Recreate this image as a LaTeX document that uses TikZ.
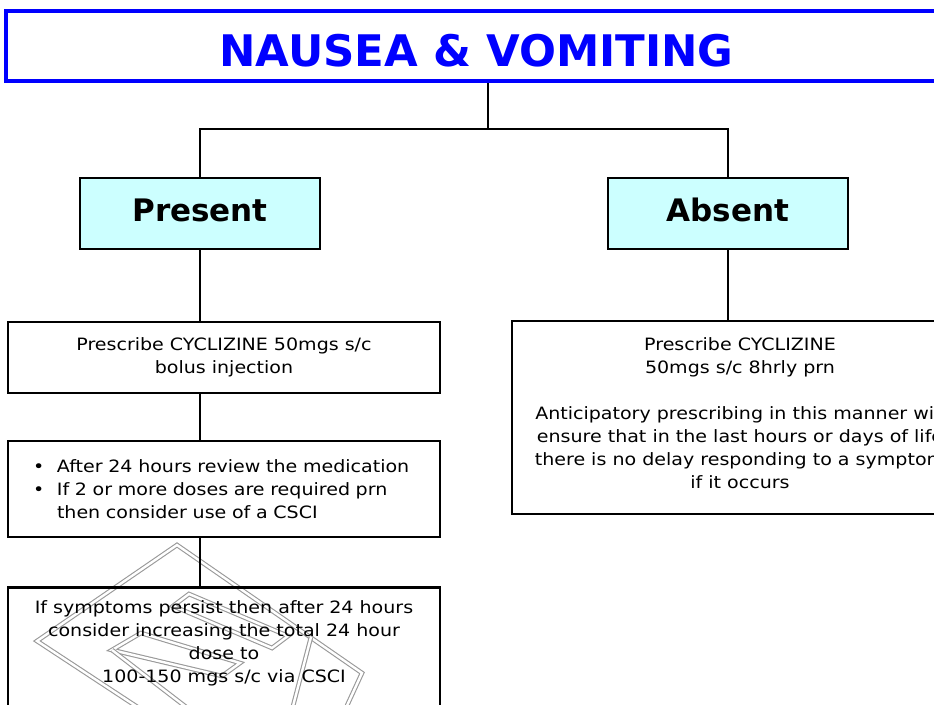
\documentclass[tikz,border=0pt]{standalone}
\usepackage{fontspec}
\setmainfont{DejaVu Sans}[FakeStretch=1.12]
\newfontfamily\headfont{DejaVu Sans}
\definecolor{titleblue}{HTML}{0000FF}
\definecolor{hdrfill}{HTML}{CCFFFF}
\begin{document}
\begin{tikzpicture}[x=1pt,y=-1pt,
  box/.style={draw=black, line width=2.5pt, rectangle, inner sep=0pt, align=center, font=\fontsize{17}{23}\selectfont},
  hdr/.style={box, fill=hdrfill, minimum width=240pt, minimum height=71pt, text depth=7pt, font=\headfont\bfseries\fontsize{31}{36}\selectfont},
  conn/.style={draw=black, line width=2pt},
  body/.style={align=center, inner sep=0pt, font=\fontsize{17}{23}\selectfont},
  wm/.style={draw=gray!80, line width=1.1pt, double=white, double distance=2.4pt}
]
\useasboundingbox (0,0) rectangle (934,704);
\clip (0,0) rectangle (934,704);
\fill[white] (0,0) rectangle (934,704);

% watermark
\draw[wm] (142,710) -- (37,641) -- (177,545) -- (362,673) -- (345,710);
\draw[wm] (311,637) -- (292,710);
\draw[wm] (189,594) -- (288,636) -- (272,648) -- (173,606) -- cycle;
\draw[wm] (112,650) -- (141,633) -- (240,663) -- (222,676) -- cycle;
\draw[wm] (112,650) -- (190,710);

% title
\node[draw=titleblue, line width=4pt, minimum width=944pt, minimum height=70.5pt, inner sep=0pt] (title) at (478,45.75) {};
\node[anchor=base, inner sep=0pt, text=titleblue, font=\headfont\bfseries\fontsize{43.5}{50}\selectfont] (titletext) at (476.5,66) {NAUSEA \& VOMITING};

% headers
\node[hdr] (present) at (200,213.5) {Present};
\node[hdr] (absent) at (728,213.5) {Absent};

% left column
\node[box, minimum width=432pt, minimum height=71pt] (b1) at (224,357.5) {Prescribe CYCLIZINE 50mgs s/c\\bolus injection};
\node[box, minimum width=432pt, minimum height=96pt, text width=382pt, inner xsep=25pt, align=left] (b2) at (224,489)
 {\makebox[24pt][l]{\textbullet}After 24 hours review the medication\\
  \makebox[24pt][l]{\textbullet}If 2 or more doses are required prn\\
  \hspace*{24pt}then consider use of a CSCI};
\node[box, minimum width=432pt, minimum height=150pt, anchor=north] (b3) at (224,586) {};
\node[body] (t3) at (224,643.5) {If symptoms persist then after 24 hours\\consider increasing the total 24 hour\\dose to\\100-150 mgs s/c via CSCI};

% right column
\node[box, minimum width=456pt, minimum height=193pt] (r1) at (740,417.5) {};
\node[body] (tr) at (740,413.5) {Prescribe CYCLIZINE\\50mgs s/c 8hrly prn\\[23pt]Anticipatory prescribing in this manner will\\ensure that in the last hours or days of life\\there is no delay responding to a symptom\\if it occurs};

% connectors
\coordinate (j) at (488,129);
\draw[conn] (title.south -| j) -- (j);
\draw[conn] (present.north) |- (j) -| (absent.north);
\draw[conn] (present.south) -- (present.south |- b1.north);
\draw[conn] (present.south |- b1.south) -- (present.south |- b2.north);
\draw[conn] (present.south |- b2.south) -- (present.south |- b3.north);
\draw[conn] (absent.south) -- (absent.south |- r1.north);
\end{tikzpicture}
\end{document}
